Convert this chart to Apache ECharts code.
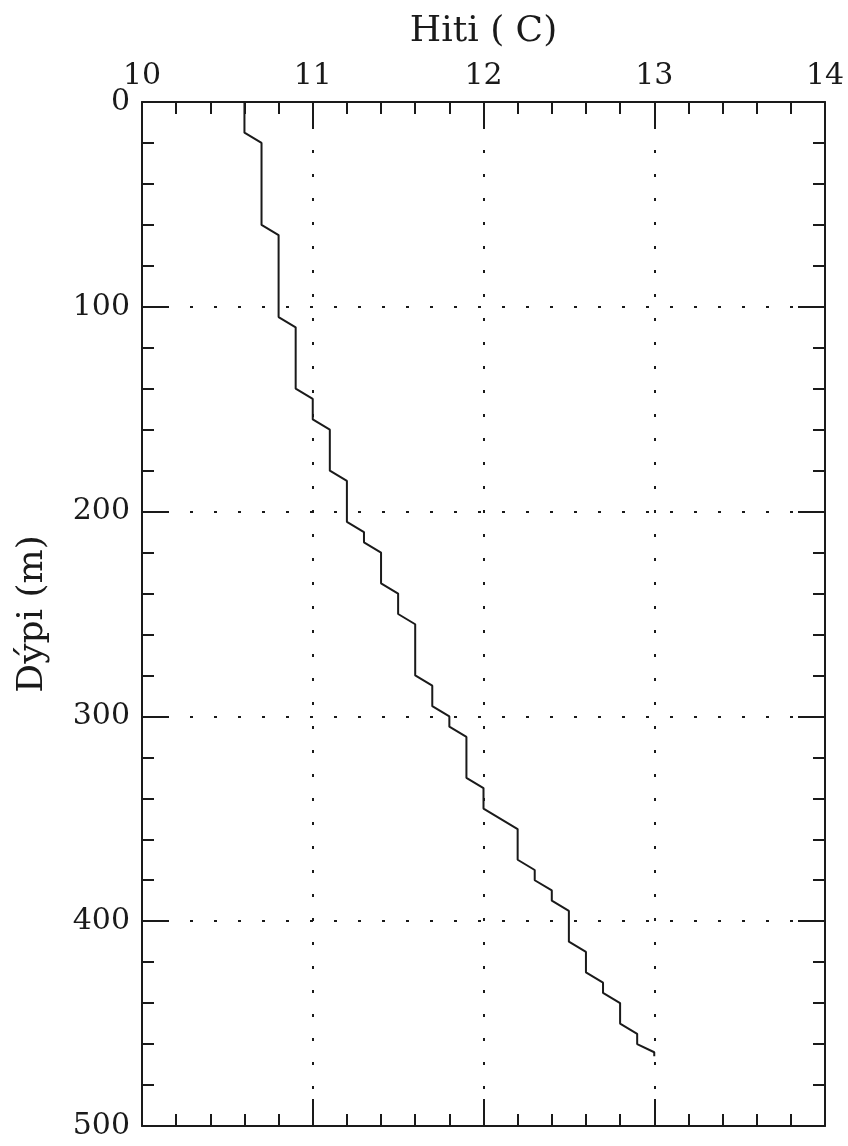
<!DOCTYPE html>
<html>
<head>
<meta charset="utf-8">
<title>Hiti og dýpi</title>
<script src="https://cdn.jsdelivr.net/npm/echarts@6/dist/echarts.min.js"></script>
<style>
  html, body { margin: 0; padding: 0; background: #fff; }
  #chart { width: 848px; height: 1146px; }
</style>
</head>
<body>
<div id="chart"></div>
<script>
// Temperature profile: vertices of the stepped curve (°C, metres)
const temperature = [10.6, 10.6, 10.7, 10.7, 10.8, 10.8, 10.9, 10.9, 11.0, 11.0,
  11.1, 11.1, 11.2, 11.2, 11.3, 11.3, 11.4, 11.4, 11.5, 11.5,
  11.6, 11.6, 11.7, 11.7, 11.8, 11.8, 11.9, 11.9, 12.0, 12.0,
  12.2, 12.2, 12.3, 12.3, 12.4, 12.4, 12.5, 12.5, 12.6, 12.6,
  12.7, 12.7, 12.8, 12.8, 12.9, 12.9, 13.0, 13.0];
const depth = [0, 15, 20, 60, 65, 105, 110, 140, 145, 155,
  160, 180, 185, 205, 210, 215, 220, 235, 240, 250,
  255, 280, 285, 295, 300, 305, 310, 330, 335, 345,
  355, 370, 375, 380, 385, 390, 395, 410, 415, 425,
  430, 435, 440, 450, 455, 460, 464, 466];

// Axis ranges and titles
const tempRange = [10, 14];
const depthRange = [0, 500];
const xTitle = 'Hiti ( C)';
const yTitle = 'Dýpi (m)';

const FONT = '"DejaVu Serif", "Liberation Serif", serif';
const INK = '#1a1a1a';

const profile = temperature.map((t, i) => [t, depth[i]]);

const frameLine = { show: true, onZero: false, lineStyle: { color: INK, width: 2 } };
const dotted = { show: true, lineStyle: { color: INK, width: 2, type: [3, 21] } };

function xAxisBase(pos, labels) {
  return {
    type: 'value', position: pos, min: tempRange[0], max: tempRange[1], interval: 1,
    axisLine: frameLine,
    axisTick: { show: true, inside: true, length: 27, lineStyle: { color: INK, width: 2 } },
    minorTick: { show: true, splitNumber: 5, length: 12, lineStyle: { color: INK, width: 2 } },
    axisLabel: { show: labels, color: INK, fontFamily: FONT, fontSize: 30, margin: 11 },
    splitLine: { show: labels ? dotted.show : false, lineStyle: dotted.lineStyle },
    minorSplitLine: { show: false }
  };
}
function yAxisBase(pos, labels) {
  return {
    type: 'value', position: pos, inverse: true, min: depthRange[0], max: depthRange[1], interval: 100,
    axisLine: frameLine,
    axisTick: { show: true, inside: true, length: 27, lineStyle: { color: INK, width: 2 } },
    minorTick: { show: true, splitNumber: 5, length: 12, lineStyle: { color: INK, width: 2 } },
    axisLabel: { show: labels, color: INK, fontFamily: FONT, fontSize: 30, margin: 12 },
    splitLine: { show: labels ? dotted.show : false, lineStyle: dotted.lineStyle },
    minorSplitLine: { show: false }
  };
}

const xTop = Object.assign(xAxisBase('top', true), {
  name: xTitle, nameLocation: 'middle', nameGap: 52,
  nameTextStyle: { color: INK, fontFamily: FONT, fontSize: 36 }
});
const xBottom = xAxisBase('bottom', false);
const yLeft = Object.assign(yAxisBase('left', true), {
  name: yTitle, nameLocation: 'middle', nameGap: 91, nameRotate: 90,
  nameTextStyle: { color: INK, fontFamily: FONT, fontSize: 36 }
});
const yRight = yAxisBase('right', false);

const chart = echarts.init(document.getElementById('chart'), null, { renderer: 'canvas' });
chart.setOption({
  backgroundColor: '#ffffff',
  animation: false,
  grid: { left: 142, right: 23, top: 102, bottom: 20, containLabel: false },
  xAxis: [xTop, xBottom],
  yAxis: [yLeft, yRight],
  series: [{
    type: 'line',
    xAxisIndex: 0,
    yAxisIndex: 0,
    data: profile,
    showSymbol: false,
    symbol: 'none',
    lineStyle: { color: INK, width: 2 },
    z: 5
  }]
});
</script>
</body>
</html>
